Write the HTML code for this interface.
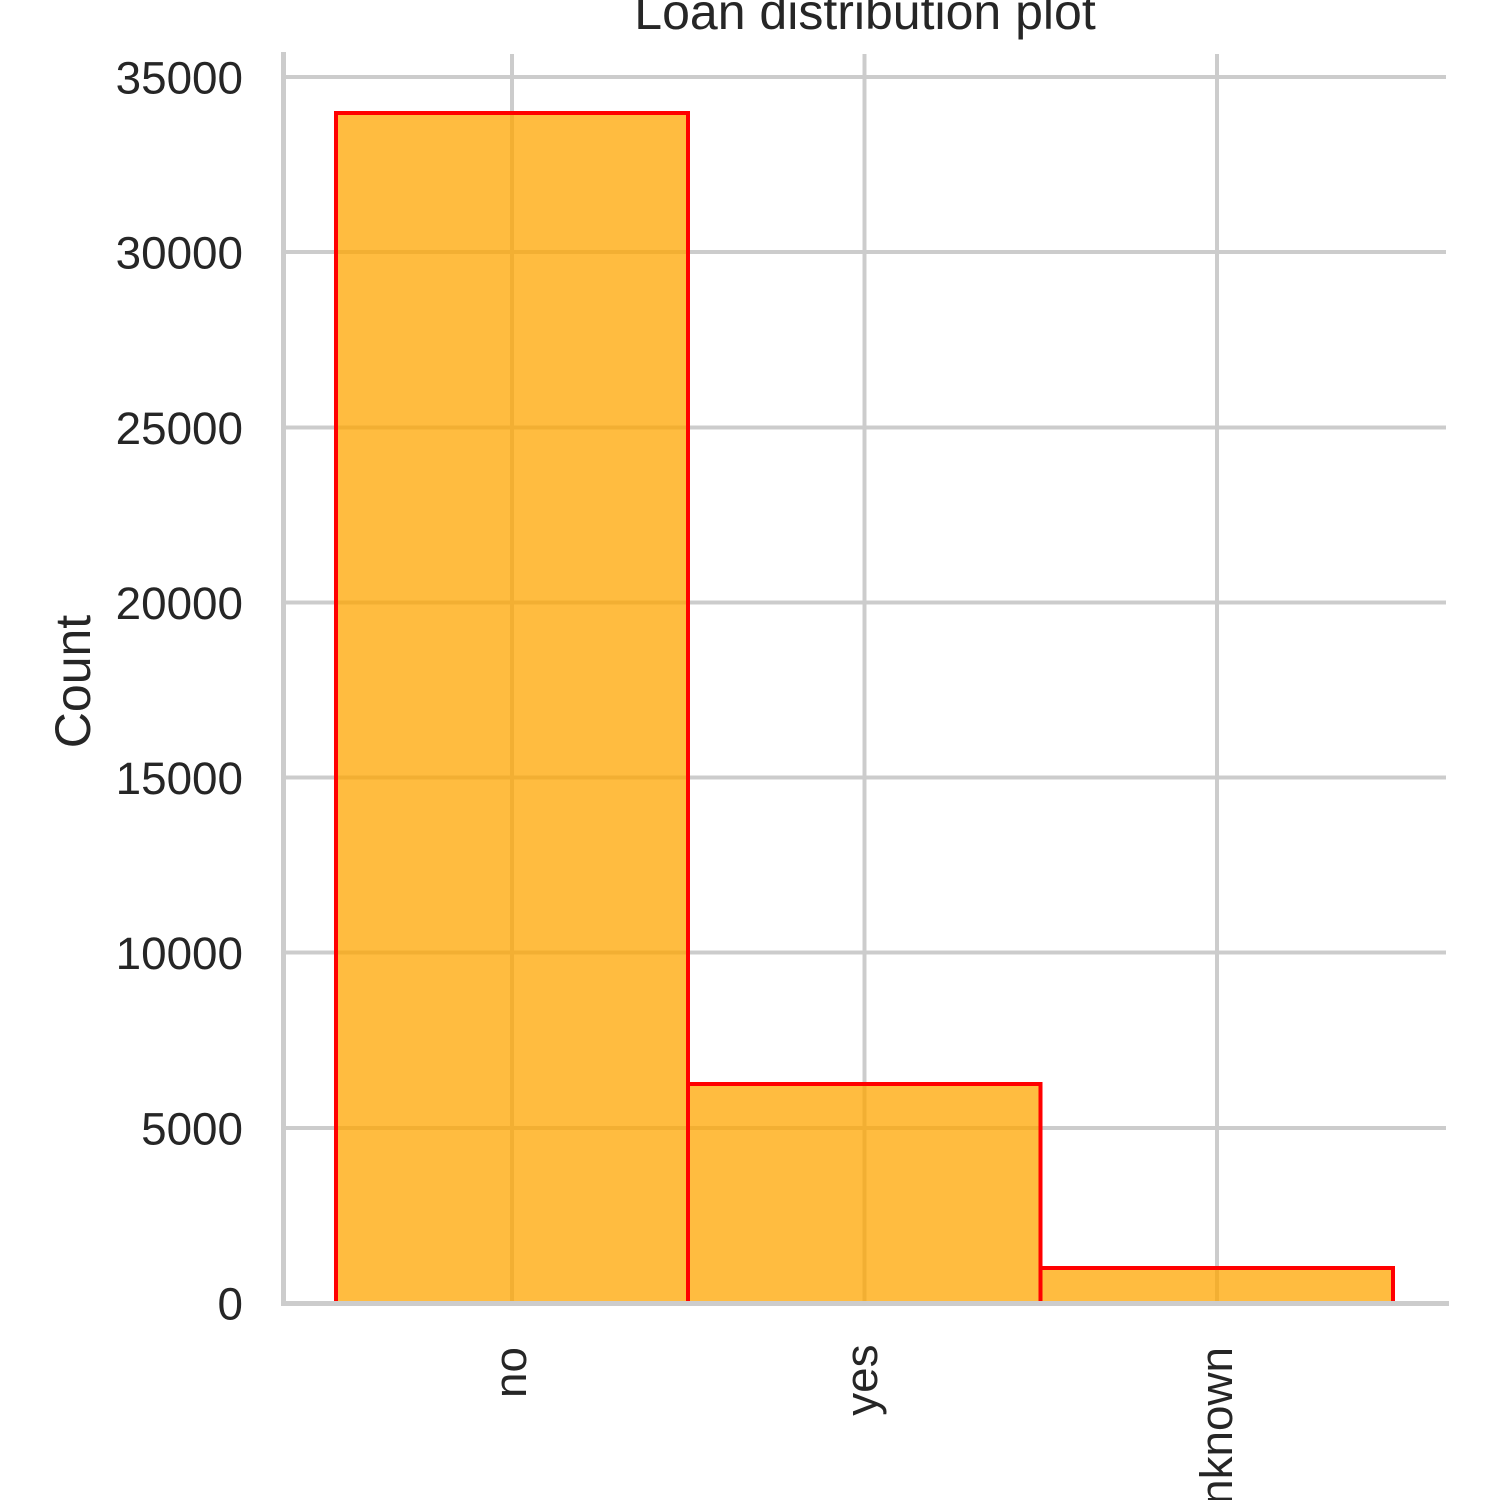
<!DOCTYPE html>
<html lang="en">
<head>
<meta charset="utf-8">
<title>Loan distribution plot</title>
<style>
html,body{margin:0;padding:0;background:#fff;}
svg{display:block;}
text{font-family:"Liberation Sans",Arial,sans-serif;fill:#262626;}
line,rect{shape-rendering:crispEdges;}
</style>
</head>
<body>
<svg id="chart" xmlns="http://www.w3.org/2000/svg" width="1500" height="1500" viewBox="0 0 1500 1500">
  <rect x="0" y="0" width="1500" height="1500" fill="#ffffff"/>
  <g id="grid"></g>
  <g id="bars"></g>
  <g id="yticks"></g>
  <g id="xticks"></g>
  <line x1="283.5" y1="52" x2="283.5" y2="1306" stroke="#cccccc" stroke-width="5"/>
  <line x1="281" y1="1303.5" x2="1449" y2="1303.5" stroke="#cccccc" stroke-width="5"/>
  <text x="865" y="29" font-size="50" text-anchor="middle">Loan distribution plot</text>
  <text x="0" y="0" font-size="50" text-anchor="middle" transform="translate(90 681.5) rotate(-90)">Count</text>
</svg>
<script>
const categories = ['no', 'yes', 'unknown'];
const counts = [33970, 6250, 1000];
const yTickValues = [0, 5000, 10000, 15000, 20000, 25000, 30000, 35000];
const yTickLabels = ['0', '5000', '10000', '15000', '20000', '25000', '30000', '35000'];

const SVG_NS = 'http://www.w3.org/2000/svg';
const PLOT_LEFT = 284;
const PLOT_RIGHT = 1446;
const PLOT_TOP = 54;
const BASELINE = 1303;
const Y_PX_PER_UNIT = 1226 / 35000;
const BAND_START = 335.8;
const BAND_WIDTH = 352.4;

function yScale(v) { return BASELINE - v * Y_PX_PER_UNIT; }
function xLeft(i) { return BAND_START + i * BAND_WIDTH; }
function xCenter(i) { return xLeft(i) + BAND_WIDTH / 2; }

// Rotated labels are centred on their ink box, so descenders and ascenders shift the baseline.
function labelBaselineShift(text) {
  if (/[gjpqy]/.test(text)) { return 12.6; }
  if (/[bdfhklt]/.test(text)) { return 15; }
  return 14;
}
function labelAnchorY(text) {
  return /[gjpqy]/.test(text) ? 1344.5 : 1347;
}

function make(tag, attrs, parent) {
  const el = document.createElementNS(SVG_NS, tag);
  Object.keys(attrs).forEach(function (k) { el.setAttribute(k, attrs[k]); });
  parent.appendChild(el);
  return el;
}

const gridLayer = document.getElementById('grid');
const barLayer = document.getElementById('bars');
const yTickLayer = document.getElementById('yticks');
const xTickLayer = document.getElementById('xticks');

yTickValues.forEach(function (v, i) {
  const y = yScale(v);
  if (v !== 0) {
    const line = make('line', { x1: PLOT_LEFT, x2: PLOT_RIGHT, y1: y, y2: y, stroke: '#cccccc', 'stroke-width': 4 }, gridLayer);
    
    
  }
  const label = make('text', { x: 243, y: y + 16.5, 'font-size': 45.8, 'text-anchor': 'end' }, yTickLayer);
  label.textContent = yTickLabels[i];
  
  
});

categories.forEach(function (c, i) {
  const cx = xCenter(i);
  const line = make('line', { x1: cx, x2: cx, y1: PLOT_TOP, y2: BASELINE, stroke: '#cccccc', 'stroke-width': 4 }, gridLayer);
  
  

  const label = make('text', { x: 0, y: 0, 'font-size': 45.8, 'text-anchor': 'end', transform: 'translate(' + (cx + labelBaselineShift(c)) + ' ' + labelAnchorY(c) + ') rotate(-90)' }, xTickLayer);
  label.textContent = c;
  
  
});

counts.forEach(function (v, i) {
  const top = yScale(v);
  const bar = make('rect', { x: xLeft(i), y: top, width: BAND_WIDTH, height: BASELINE - top, fill: 'rgba(255,165,0,0.75)', stroke: '#ff0000', 'stroke-width': 4 }, barLayer);
  
  
});
</script>
</body>
</html>
